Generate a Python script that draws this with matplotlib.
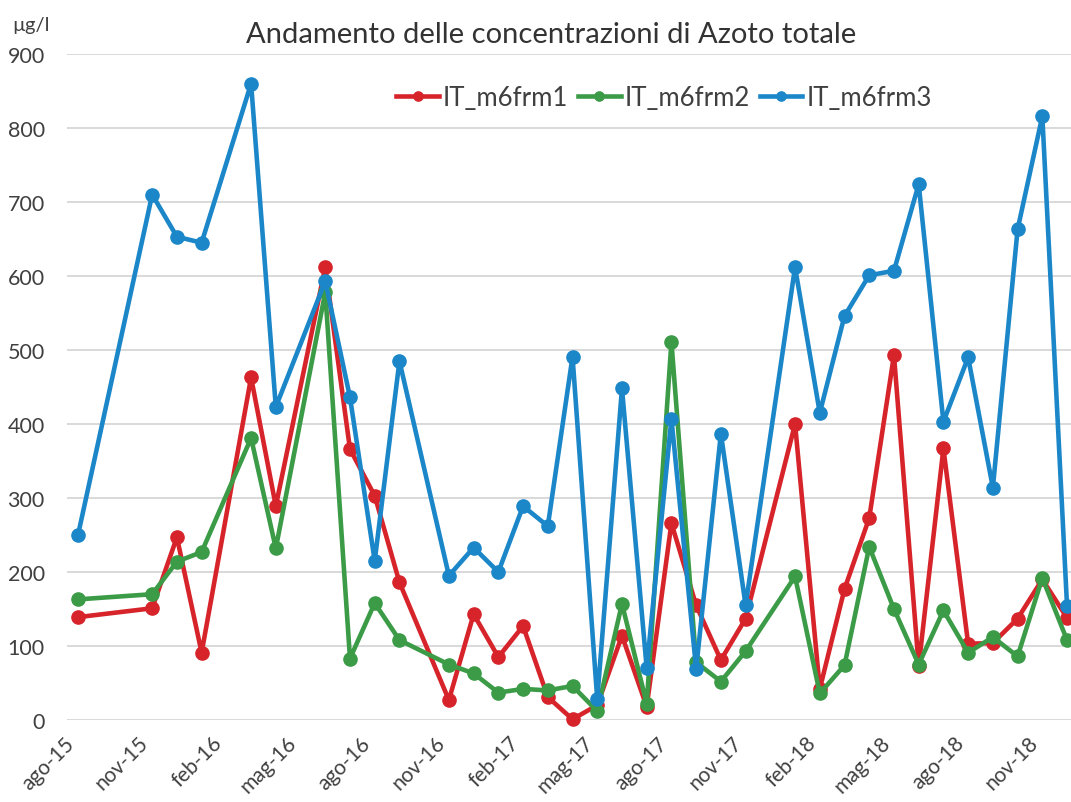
import matplotlib
matplotlib.use("Agg")
import matplotlib.pyplot as plt
from matplotlib.transforms import ScaledTranslation
import numpy as np

plt.rcParams['font.family'] = ['Lato', 'DejaVu Sans']

# Date di campionamento (anno-mese)
dates = ["2015-08", "2015-11", "2015-12", "2016-01", "2016-03", "2016-04",
         "2016-06", "2016-07", "2016-08", "2016-09", "2016-11", "2016-12",
         "2017-01", "2017-02", "2017-03", "2017-04", "2017-05", "2017-06",
         "2017-07", "2017-08", "2017-09", "2017-10", "2017-11", "2018-01",
         "2018-02", "2018-03", "2018-04", "2018-05", "2018-06", "2018-07",
         "2018-08", "2018-09", "2018-10", "2018-11", "2018-12"]

# Concentrazioni di azoto totale (µg/l)
m6frm1 = [139, 151, 247, 91, 463, 289, 612, 366, 303, 186, 27, 143,
          85, 127, 31, 1, 20, 114, 18, 266, 155, 81, 137, 400,
          42, 177, 273, 493, 73, 367, 103, 104, 137, 190, 138]
m6frm2 = [163, 170, 214, 227, 381, 232, 578, 83, 158, 108, 75, 63,
          37, 42, 40, 46, 12, 157, 22, 511, 78, 52, 93, 194,
          36, 74, 234, 150, 75, 148, 91, 112, 86, 192, 108]
m6frm3 = [250, 710, 653, 645, 860, 423, 593, 436, 215, 485, 195, 233,
          200, 289, 262, 491, 28, 448, 70, 407, 69, 387, 155, 612,
          415, 546, 601, 607, 724, 403, 490, 314, 663, 816, 154]

tick_labels = ["ago-15", "nov-15", "feb-16", "mag-16", "ago-16", "nov-16",
               "feb-17", "mag-17", "ago-17", "nov-17", "feb-18", "mag-18",
               "ago-18", "nov-18"]

# mesi trascorsi da agosto 2015
def month_index(s):
    y, m = map(int, s.split("-"))
    return (y - 2015) * 12 + (m - 8)

x = np.array([month_index(d) for d in dates])

fig = plt.figure(figsize=(10.71, 8.03), dpi=100)
ax = fig.add_axes([67 / 1071, 1 - 721 / 803, 1 - 67 / 1071, (721 - 55) / 803])

series = [("IT_m6frm1", m6frm1, "#d7242b"),
          ("IT_m6frm2", m6frm2, "#3b9b47"),
          ("IT_m6frm3", m6frm3, "#1b87c9")]
for name, vals, col in series:
    ax.plot(x, vals, color=col, lw=3.3, marker='o', ms=9.5,
            label=name, clip_on=False)

ax.set_ylim(0, 900)
ax.set_yticks(range(0, 901, 100))
ax.set_xlim(-0.445, 40.16)
ax.set_xticks(range(0, 40, 3))
ax.set_xticklabels(tick_labels, rotation=45, ha='right')
# etichette leggermente spostate a destra, come in Excel
shift = ScaledTranslation(5 / 100, 0, fig.dpi_scale_trans)
for lbl in ax.get_xticklabels():
    lbl.set_transform(lbl.get_transform() + shift)

ax.grid(axis='y', color='#d9d9d9', lw=1.4)
ax.set_axisbelow(True)
for s in ax.spines.values():
    s.set_visible(False)
ax.tick_params(axis='both', length=0, labelsize=15, labelcolor='#404040')
ax.tick_params(axis='y', pad=16, labelsize=15.5)
ax.tick_params(axis='x', pad=9)

fig.text(0.515, 1 - 35 / 803, "Andamento delle concentrazioni di Azoto totale",
         ha='center', va='center', fontsize=21, color='#333333')
fig.text(12 / 1071, 1 - 25 / 803, "µg/l", ha='left', va='center',
         fontsize=14.5, color='#404040')

ax.legend(loc='center', bbox_to_anchor=(664 / 1071, 1 - 98 / 803),
          bbox_transform=fig.transFigure, ncol=3, frameon=False,
          fontsize=18.5, handlelength=1.65, handletextpad=0.15,
          columnspacing=0.4, markerscale=0.7, labelcolor='#404040')

fig.savefig("out.png", dpi=100)
